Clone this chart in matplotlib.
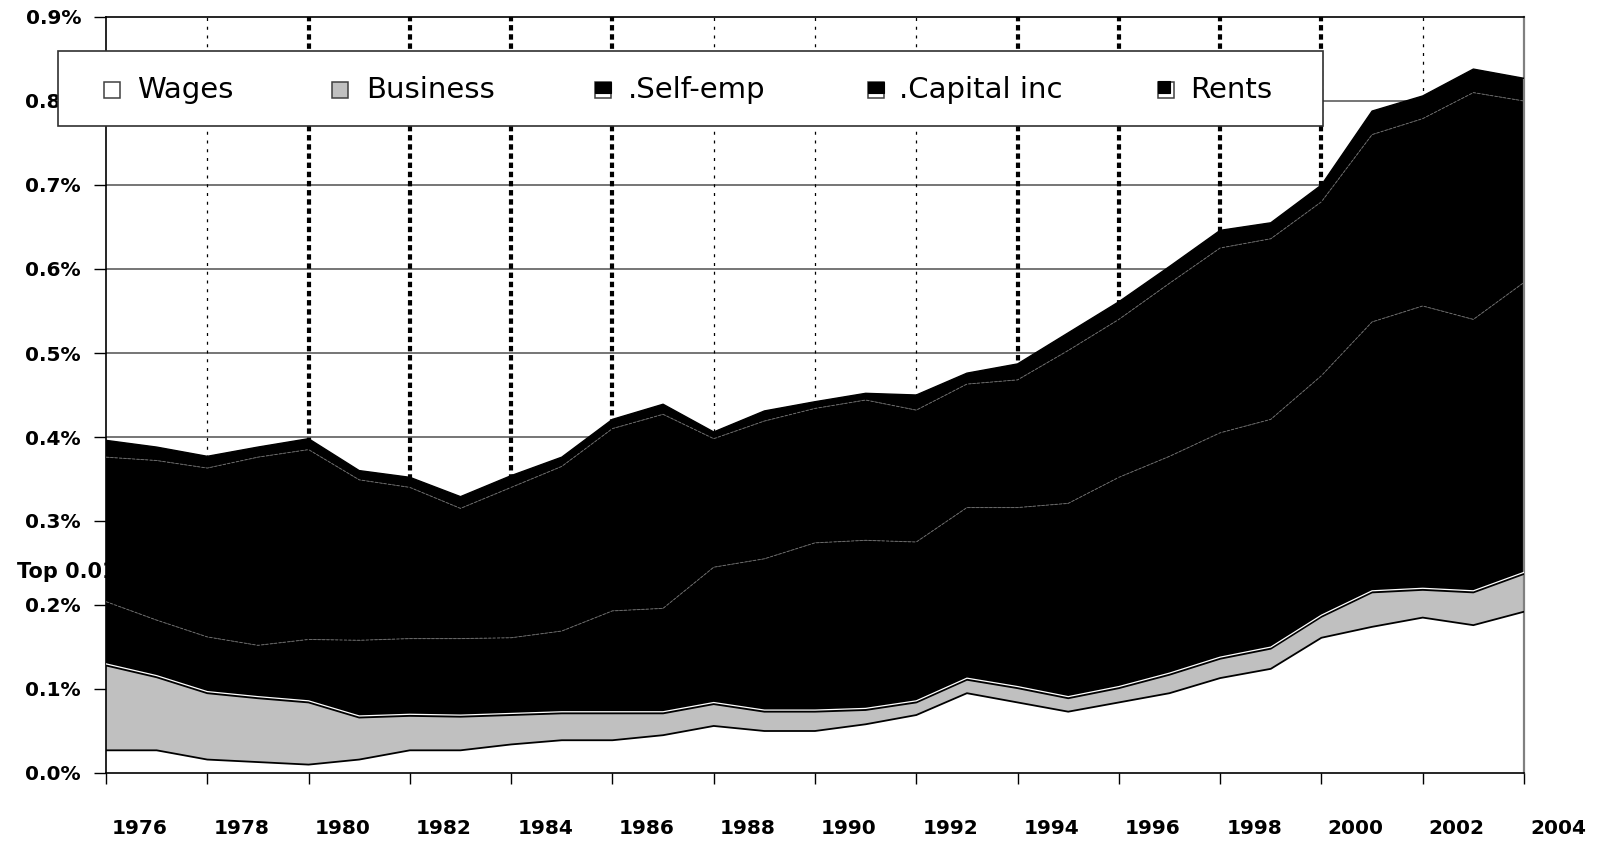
import matplotlib
matplotlib.use("Agg")
import matplotlib.pyplot as plt
import numpy as np
from matplotlib.patches import Rectangle
from matplotlib.transforms import offset_copy, ScaledTranslation

# shares of total income, in percent
years = np.arange(1976, 2005)
wages = [0.027, 0.027, 0.016, 0.013, 0.010, 0.016, 0.027, 0.027, 0.034, 0.039,
         0.039, 0.045, 0.056, 0.050, 0.050, 0.058, 0.069, 0.095, 0.084, 0.073,
         0.084, 0.095, 0.113, 0.124, 0.161, 0.174, 0.185, 0.176, 0.192]
business = [0.101, 0.087, 0.079, 0.076, 0.074, 0.050, 0.041, 0.040, 0.035, 0.032,
            0.032, 0.026, 0.026, 0.023, 0.023, 0.017, 0.015, 0.016, 0.017, 0.016,
            0.017, 0.022, 0.023, 0.024, 0.025, 0.041, 0.033, 0.039, 0.045]
self_emp = [0.076, 0.068, 0.067, 0.063, 0.075, 0.092, 0.092, 0.093, 0.092, 0.098,
            0.122, 0.125, 0.163, 0.182, 0.201, 0.202, 0.191, 0.205, 0.215, 0.232,
            0.251, 0.260, 0.269, 0.273, 0.287, 0.322, 0.338, 0.325, 0.347]
capital = [0.172, 0.190, 0.201, 0.224, 0.226, 0.191, 0.180, 0.155, 0.179, 0.196,
           0.217, 0.231, 0.153, 0.164, 0.160, 0.167, 0.157, 0.147, 0.152, 0.182,
           0.188, 0.206, 0.220, 0.215, 0.207, 0.223, 0.223, 0.270, 0.216]
rents = [0.020, 0.016, 0.014, 0.012, 0.013, 0.011, 0.012, 0.014, 0.014, 0.011,
         0.011, 0.012, 0.008, 0.012, 0.008, 0.008, 0.018, 0.013, 0.019, 0.021,
         0.021, 0.020, 0.021, 0.019, 0.020, 0.028, 0.027, 0.028, 0.027]
series_names = ["Wages", "Business", ".Self-emp", ".Capital inc", "Rents"]
year_labels = [str(y) for y in range(1976, 2005, 2)]

W, H = 1598, 844
fig = plt.figure(figsize=(W / 100, H / 100), dpi=100)
ax = fig.add_axes([106 / W, 1 - 773 / H, (1524 - 106) / W, (773 - 17) / H])

def fx(x):
    return x / W

def fy(y):
    return 1 - y / H

# grid behind the areas
for v in np.arange(0.1, 0.85, 0.1):
    ax.axhline(v, color="#505050", lw=1.1, zorder=0.5)
for yr in [1978, 1988, 1990, 1992, 2002]:
    ax.axvline(yr, color="black", lw=0.9, ls=(0, (2.4, 4.6)), zorder=0.6)
for yr in [1980, 1982, 1984, 1986, 1994, 1996, 1998, 2000]:
    ax.axvline(yr, color="black", lw=3, ls=(0, (1.3, 0.9)), zorder=0.6)

stack = np.vstack([wages, business, self_emp, capital, rents])
ax.stackplot(years, stack, colors=["white", "#c0c0c0", "black", "black", "black"],
             linewidth=0, zorder=2)
cum = np.cumsum(stack, axis=0)
ax.plot(years, cum[0], color="black", lw=1.3, zorder=3)
ax.plot(years, cum[1], color="black", lw=1.3, zorder=3)
up = offset_copy(ax.transData, fig=fig, x=0, y=1.6, units="dots")
ax.plot(years, cum[1], color="white", lw=0.9, zorder=3, transform=up)
ax.plot(years, cum[2], color="#6a6a6a", lw=0.7, ls=(0, (3, 1.5)), zorder=3)
ax.plot(years, cum[3], color="#6a6a6a", lw=0.7, ls=(0, (3, 1.5)), zorder=3)
ax.plot(years, cum[4], color="black", lw=1.0, zorder=3)

ax.set_xlim(1976, 2004)
ax.set_ylim(0, 0.9)
ax.set_yticks(np.arange(0, 0.91, 0.1))
ax.set_yticklabels([f"{v:.1f}%" for v in np.arange(0, 0.91, 0.1)],
                   fontsize=14.5, fontweight="bold")
ax.tick_params(axis="y", direction="out", length=9, width=1, pad=9)
ax.set_xticks(np.arange(1976, 2005, 2), year_labels, fontsize=14.5, fontweight="bold")
ax.tick_params(axis="x", direction="out", length=8, width=1, pad=25)
# Excel-style labels sit to the right of their tick
shift = ScaledTranslation(0.34, 0, fig.dpi_scale_trans)
for t in ax.get_xticklabels():
    t.set_transform(t.get_transform() + shift)
ax.set_xlim(1976, 2004)
for s in ax.spines.values():
    s.set_color("black")
    s.set_linewidth(1.2)
ax.spines["right"].set_color("#808080")
ax.spines["right"].set_linewidth(1.6)

# axis title hidden behind the plot area
fig.text(fx(17), fy(572), "Top 0.01%", fontsize=15, fontweight="bold",
         va="center", ha="left", zorder=-1)

# legend box
fig.add_artist(Rectangle((fx(58), fy(126)), fx(1323 - 58), (126 - 51) / H,
                         transform=fig.transFigure, facecolor="white",
                         edgecolor="#303030", lw=1.2, zorder=10))
mark_x = [112, 340, 603, 876, 1166]
text_x = [137, 366, 628, 899, 1190]
ms = 16
my = 89.5
for i, name in enumerate(series_names):
    x0 = mark_x[i] - ms / 2
    y0 = my + ms / 2
    face = "#c0c0c0" if i == 1 else "white"
    fig.add_artist(Rectangle((fx(x0), fy(y0)), ms / W, ms / H, transform=fig.transFigure,
                             facecolor=face, edgecolor="#404040", lw=1.1, zorder=11))
    if i in (2, 3):
        fig.add_artist(Rectangle((fx(x0), fy(my - ms / 2 + ms * 0.7)), ms / W, ms * 0.7 / H,
                                 transform=fig.transFigure, facecolor="black",
                                 edgecolor="black", lw=0.8, zorder=12))
    elif i == 4:
        fig.add_artist(Rectangle((fx(x0), fy(my - ms / 2 + ms * 0.72)), ms * 0.72 / W,
                                 ms * 0.72 / H, transform=fig.transFigure,
                                 facecolor="black", edgecolor="black", lw=0.8, zorder=12))
    fig.text(fx(text_x[i]), fy(my + 1), name, fontsize=21, va="center", ha="left",
             zorder=13)

fig.savefig("out.png", dpi=100)
